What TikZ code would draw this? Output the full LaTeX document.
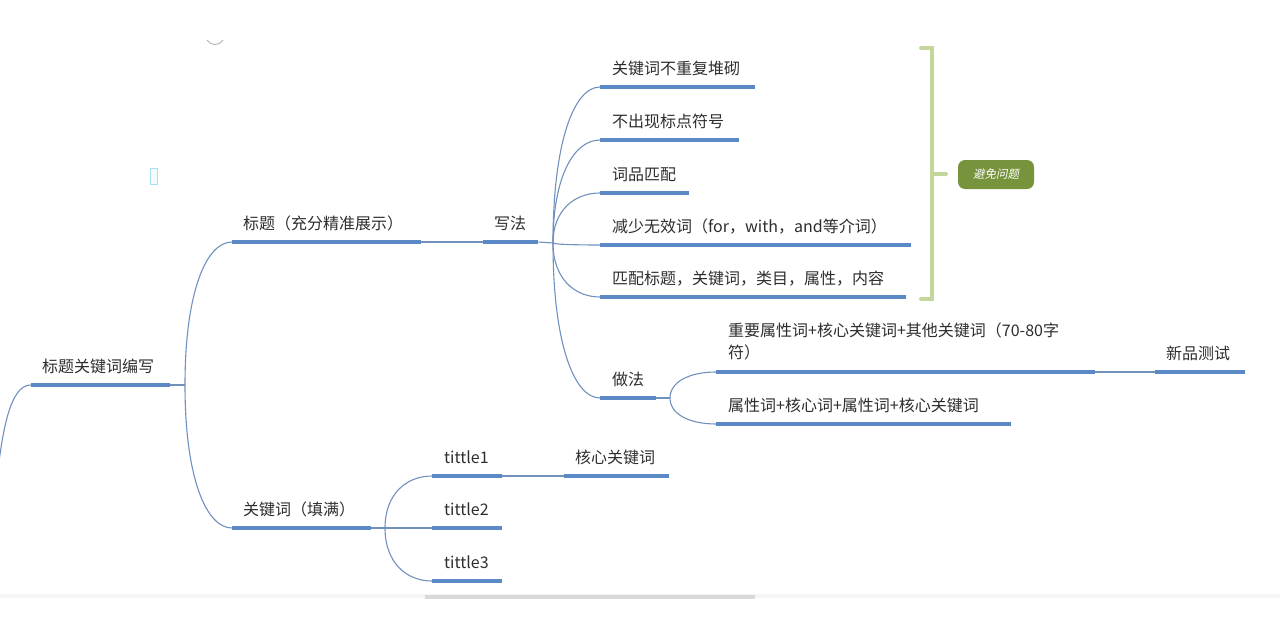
\documentclass[tikz,border=0pt]{standalone}
\usepackage{fontspec}
\setmainfont{Noto Sans CJK SC}
\newfontfamily\cjkit{Noto Sans CJK SC}[FakeSlant=0.2]
\usetikzlibrary{calc}
\definecolor{ulinec}{RGB}{91,137,197}
\definecolor{connc}{RGB}{112,144,190}
\definecolor{brkc}{RGB}{196,215,155}
\definecolor{tagc}{RGB}{119,147,60}
\definecolor{txtc}{RGB}{45,45,45}
\begin{document}
\begin{tikzpicture}[x=1pt,y=-1pt,
  bar/.style={draw=none, fill=ulinec, inner sep=0pt, minimum height=3.5pt, anchor=west},
  lbl/.style={anchor=base west, inner sep=0pt, text=txtc, font=\fontsize{16}{22}\selectfont},
  link/.style={draw=connc, line width=1.1pt},
  mmcurve/.style={to path={let \p1=(\tikztostart), \p2=(\tikztotarget) in
     .. controls (\x1,{\y1+0.65*(\y2-\y1)}) and ({\x2-0.55*(\x2-\x1)},\y2) .. (\tikztotarget)}},
  brkline/.style={draw=brkc, line width=4pt, line cap=round, line join=miter},
  tag/.style={fill=tagc, rounded corners=7pt, minimum width=76pt, minimum height=29pt, inner sep=0pt,
     text=white, font=\fontsize{11.5}{13}\selectfont\cjkit}
]
\useasboundingbox (0,0) rectangle (1280,640);
\clip (0,0) rectangle (1280,640);

% artifacts
\draw[draw=gray!60, line width=0.9pt] (207,40) .. controls (210,46) and (220,46) .. (223,40);
\draw[draw=cyan!35, fill=cyan!4, line width=0.8pt] (150,168) rectangle (157,184);
\fill[gray!8] (0,594) rectangle (1280,598);
\fill[gray!30] (425,595) rectangle (755,599);

% underline bars (topics)
\node[bar, minimum width=139pt] (root) at (31,385) {};
\node[bar, minimum width=189pt] (biaoti) at (232,242) {};
\node[bar, minimum width=55pt] (xiefa) at (483,242) {};
\node[bar, minimum width=155pt] (k1) at (600,87) {};
\node[bar, minimum width=139pt] (k2) at (600,140) {};
\node[bar, minimum width=89pt] (k3) at (600,193) {};
\node[bar, minimum width=311pt] (k4) at (600,245) {};
\node[bar, minimum width=306pt] (k5) at (600,297) {};
\node[bar, minimum width=56pt] (zuofa) at (600,398) {};
\node[bar, minimum width=379pt] (z1) at (716,372) {};
\node[bar, minimum width=90pt] (xinpin) at (1155,372) {};
\node[bar, minimum width=295pt] (z2) at (716,424) {};
\node[bar, minimum width=139pt] (gjc) at (232,528) {};
\node[bar, minimum width=70pt] (t1) at (432,476) {};
\node[bar, minimum width=70pt] (t2) at (432,528) {};
\node[bar, minimum width=70pt] (t3) at (432,581) {};
\node[bar, minimum width=105pt] (hx) at (564,476) {};

% texts
\node[lbl] (rootT) at (42,372) {标题关键词编写};
\node[lbl] (biaotiT) at (243,229) {标题（充分精准展示）};
\node[lbl] (xiefaT) at (494,229) {写法};
\node[lbl] (k1T) at (612,74) {关键词不重复堆砌};
\node[lbl] (k2T) at (612,127) {不出现标点符号};
\node[lbl] (k3T) at (612,180) {词品匹配};
\node[lbl] (k4T) at (612,232) {减少无效词（for，with，and等介词）};
\node[lbl] (k5T) at (612,284) {匹配标题，关键词，类目，属性，内容};
\node[lbl] (zuofaT) at (612,385) {做法};
\node[lbl, align=left] (z1T) at (728,358) {重要属性词+核心关键词+其他关键词（70-80字\\符）};
\node[lbl] (xinpinT) at (1166,359) {新品测试};
\node[lbl] (z2T) at (728,411) {属性词+核心词+属性词+核心关键词};
\node[lbl] (gjcT) at (243,515) {关键词（填满）};
\node[lbl] (t1T) at (444,463) {tittle1};
\node[lbl] (t2T) at (444,515) {tittle2};
\node[lbl] (t3T) at (444,568) {tittle3};
\node[lbl] (hxT) at (575,463) {核心关键词};

% branch points
\coordinate (parentoff) at (-2,470);
\coordinate (b0) at (185,385);
\coordinate (b1) at (553,243);
\coordinate (b2) at (670,398);
\coordinate (b3) at (385,528);

% connectors
\draw[link] (root.west) .. controls (15,385) and (5,410) .. (parentoff);
\draw[link] (root.east) -- (b0);
\draw[link] (b0) to[mmcurve] (biaoti.west);
\draw[link] (b0) to[mmcurve] (gjc.west);
\draw[link] (biaoti.east) -- (xiefa.west);
\draw[link] (xiefa.east) -- (b1);
\foreach \c in {k1,k2,k3,k4,k5,zuofa} \draw[link] (b1) to[mmcurve] (\c.west);
\draw[link] (zuofa.east) -- (b2);
\draw[link] (b2) to[mmcurve] (z1.west);
\draw[link] (b2) to[mmcurve] (z2.west);
\draw[link] (z1.east) -- (xinpin.west);
\draw[link] (gjc.east) -- (b3);
\foreach \c in {t1,t2,t3} \draw[link] (b3) to[mmcurve] (\c.west);
\draw[link] (t1.east) -- (hx.west);

% bracket and tag
\coordinate (brtop) at (921,48);
\coordinate (brbot) at (921,299);
\coordinate (brmid) at (932,174);
\coordinate (brtick) at (946,174);
\draw[brkline] (brtop) -- (932,48) -- (932,299) -- (brbot);
\draw[brkline] (brmid) -- (brtick);
\node[tag] (avoid) at (996,174.5) {避免问题};
\end{tikzpicture}
\end{document}
